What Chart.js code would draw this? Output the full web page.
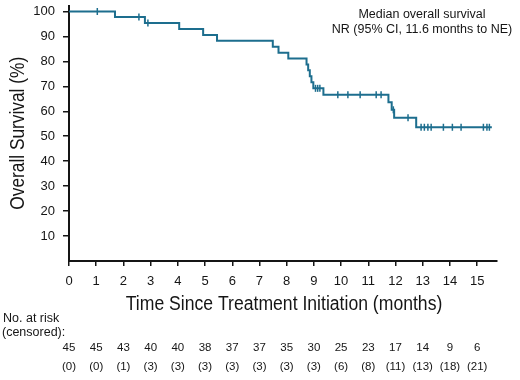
<!DOCTYPE html>
<html>
<head>
<meta charset="utf-8">
<script src="https://cdn.jsdelivr.net/npm/chart.js@4"></script>
<style>
  body { margin: 0; background: #fff; }
</style>
</head>
<body>
<canvas id="chart" width="520" height="380"></canvas>
<script>
// Kaplan-Meier steps (months, % surviving)
const eventTimes = [0, 1.69, 2.79, 4.05, 4.93, 5.44, 7.49, 7.70, 8.06, 8.73, 8.79, 8.85, 8.91, 8.98, 9.35, 11.74, 11.86, 11.95, 12.76, 15.54];
const survival = [100, 97.8, 95.4, 93.0, 90.6, 88.3, 85.9, 83.5, 81.2, 78.8, 76.4, 74.0, 71.6, 69.2, 66.6, 63.6, 60.6, 57.4, 53.6, 53.6];

// censor marks
const censorTimes = [1.04, 2.57, 2.90, 9.06, 9.14, 9.22, 9.88, 10.25, 10.70, 11.29, 11.47, 11.92, 12.46, 12.94, 13.06, 13.19, 13.31, 13.76, 14.09, 14.41, 15.23, 15.36, 15.45];
const censorSurvival = [100, 97.8, 95.4, 69.2, 69.2, 69.2, 66.6, 66.6, 66.6, 66.6, 66.6, 60.6, 57.4, 53.6, 53.6, 53.6, 53.6, 53.6, 53.6, 53.6, 53.6, 53.6, 53.6];

// risk table
const riskMonths = [0, 1, 2, 3, 4, 5, 6, 7, 8, 9, 10, 11, 12, 13, 14, 15];
const atRisk = [45, 45, 43, 40, 40, 38, 37, 37, 35, 30, 25, 23, 17, 14, 9, 6];
const censored = [0, 0, 1, 3, 3, 3, 3, 3, 3, 3, 6, 8, 11, 13, 18, 21];

const xTitle = 'Time Since Treatment Initiation (months)';
const yTitle = 'Overall Survival (%)';

const lineColor = '#1d6e8e';
const ink = '#151515';
const sans = "'Liberation Sans', Arial, sans-serif";

// no condensed face installed, so squeeze the axis titles a bit
function squeezedText(ctx, text, cx, cy, angle, squeeze) {
  ctx.save();
  ctx.translate(cx, cy);
  ctx.rotate(angle);
  ctx.scale(squeeze, 1);
  ctx.fillText(text, 0, 0);
  ctx.restore();
}

const extraText = {
  id: 'extraText',
  afterDraw(chart) {
    const ctx = chart.ctx;
    const x = chart.scales.x;
    const area = chart.chartArea;
    ctx.save();
    ctx.fillStyle = ink;
    ctx.textBaseline = 'middle';
    ctx.textAlign = 'center';

    ctx.font = '20px ' + sans;
    squeezedText(ctx, xTitle, (area.left + area.right) / 2 + 1, 304, 0, 0.88);
    squeezedText(ctx, yTitle, 18, (area.top + area.bottom) / 2, -Math.PI / 2, 0.865);

    ctx.font = '12.5px ' + sans;
    ctx.fillText('Median overall survival', 422, 15);
    ctx.fillText('NR (95% CI, 11.6 months to NE)', 422, 30);

    ctx.textAlign = 'left';
    ctx.fillText('No. at risk', 3, 319);
    ctx.fillText('(censored):', 2, 333);

    ctx.textAlign = 'center';
    ctx.font = '11.5px ' + sans;
    riskMonths.forEach((m, i) => {
      const px = x.getPixelForValue(m);
      ctx.fillText(String(atRisk[i]), px, 348);
      ctx.fillText('(' + censored[i] + ')', px, 367);
    });
    ctx.restore();
  }
};

const ctx = document.getElementById('chart').getContext('2d');
new Chart(ctx, {
  type: 'scatter',
  data: {
    datasets: [
      {
        type: 'line',
        data: eventTimes.map((t, i) => ({ x: t, y: survival[i] })),
        borderColor: lineColor,
        borderWidth: 2,
        stepped: true,
        pointRadius: 0,
        fill: false,
        clip: false,
      },
      {
        data: censorTimes.map((t, i) => ({ x: t, y: censorSurvival[i] })),
        pointStyle: 'line',
        rotation: 90,
        pointRadius: 3.5,
        borderColor: lineColor,
        borderWidth: 1.5,
        showLine: false,
        clip: false,
      }
    ]
  },
  options: {
    responsive: false,
    animation: false,
    layout: { padding: { top: 5, right: 23, left: 0, bottom: 0 } },
    plugins: {
      legend: { display: false },
      tooltip: { enabled: false },
    },
    scales: {
      x: {
        type: 'linear',
        min: 0,
        max: 15.73,
        ticks: {
          stepSize: 1,
          includeBounds: false,
          padding: 8,
          color: ink,
          font: { family: sans, size: 13 },
        },
        grid: { drawOnChartArea: false, drawTicks: true, tickLength: 5, color: ink, lineWidth: 1.5 },
        border: { display: true, color: ink, width: 2 },
        afterFit(scale) {
          scale.height = 119;
          scale.paddingLeft = 0;
          scale.paddingRight = 0;
        }
      },
      y: {
        min: 0,
        max: 102.4,
        ticks: {
          stepSize: 10,
          includeBounds: false,
          padding: 8,
          color: ink,
          font: { family: sans, size: 13 },
        },
        afterBuildTicks(scale) {
          scale.ticks = scale.ticks.filter(t => t.value !== 0);
        },
        grid: { drawOnChartArea: false, drawTicks: true, tickLength: 6, color: ink, lineWidth: 1.5 },
        border: { display: true, color: ink, width: 2 },
        afterFit(scale) {
          scale.width = 69;
          scale.paddingTop = 0;
          scale.paddingBottom = 0;
        }
      }
    }
  },
  plugins: [extraText]
});
</script>
</body>
</html>
